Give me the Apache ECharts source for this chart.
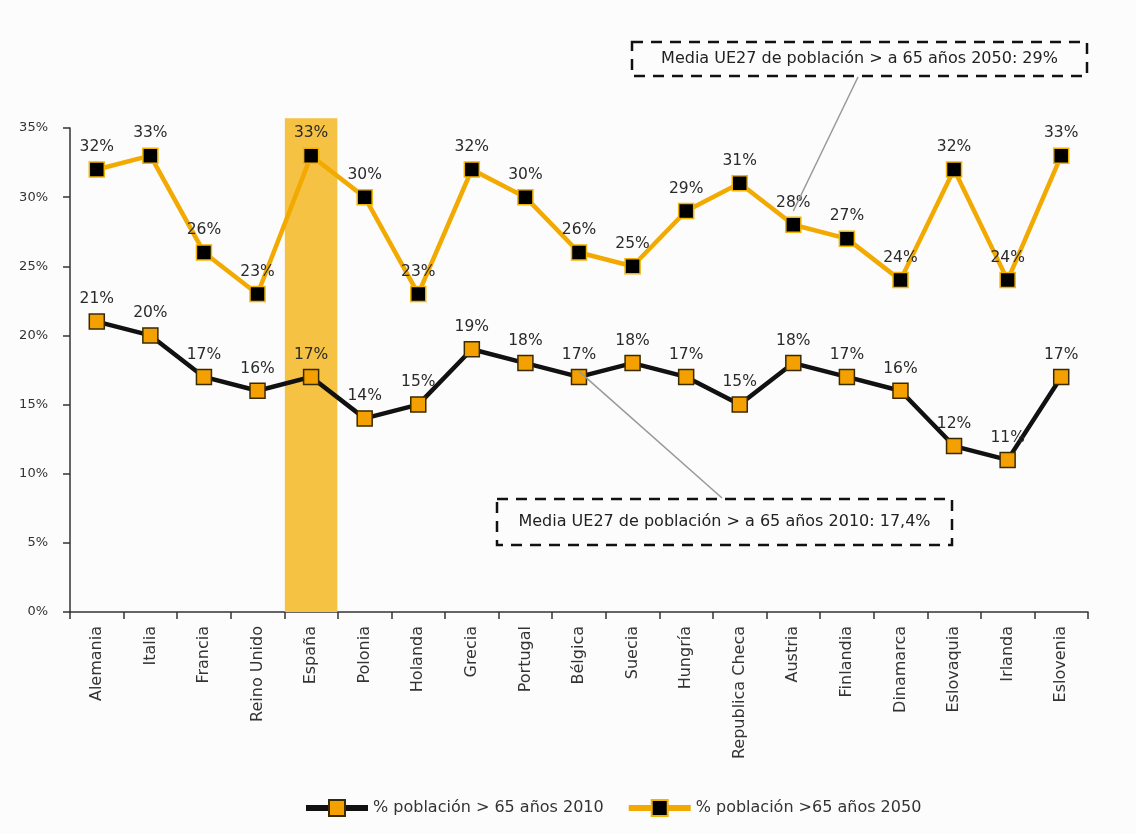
<!DOCTYPE html>
<html>
<head>
<meta charset="utf-8">
<script src="https://cdn.jsdelivr.net/npm/echarts@6/dist/echarts.min.js"></script>
<style>
  html, body { margin: 0; padding: 0; background: #fcfcfc; }
  #chart { width: 1136px; height: 834px; }
</style>
</head>
<body>
<div id="chart"></div>
<script>
// Countries along the x axis
const countries = ['Alemania', 'Italia', 'Francia', 'Reino Unido', 'España', 'Polonia', 'Holanda',
  'Grecia', 'Portugal', 'Bélgica', 'Suecia', 'Hungría', 'Republica Checa', 'Austria',
  'Finlandia', 'Dinamarca', 'Eslovaquia', 'Irlanda', 'Eslovenia'];

// Share of population over 65 (%)
const pop2010 = [21, 20, 17, 16, 17, 14, 15, 19, 18, 17, 18, 17, 15, 18, 17, 16, 12, 11, 17];
const pop2050 = [32, 33, 26, 23, 33, 30, 23, 32, 30, 26, 25, 29, 31, 28, 27, 24, 32, 24, 33];

// Highlight column behind España
const highlight = [null, null, null, null, 35.7, null, null, null, null, null, null, null, null, null, null, null, null, null, null];

// EU27 averages
const avg2010 = 17.4;
const avg2050 = 29;
const name2010 = '% población > 65 años 2010';
const name2050 = '% población >65 años 2050';
const note2010 = 'Media UE27 de población > a 65 años 2010: 17,4%';
const note2050 = 'Media UE27 de población > a 65 años 2050: 29%';

const FONT = 'DejaVu Sans';
const chart = echarts.init(document.getElementById('chart'));

const labelStyle = {
  show: true, position: 'top', distance: 6, formatter: '{c}%',
  fontFamily: FONT, fontSize: 15.5, color: '#2a2a2a'
};

chart.setOption({
  backgroundColor: '#fcfcfc',
  animation: false,
  textStyle: { fontFamily: FONT },
  grid: { left: 70, right: 48, top: 128, bottom: 222 },
  legend: {
    data: [name2010, name2050],
    bottom: 12,
    left: 298,
    itemWidth: 62,
    itemHeight: 20,
    itemGap: 22,
    lineStyle: { width: 6 },
    textStyle: { fontFamily: FONT, fontSize: 16, color: '#333' }
  },
  xAxis: {
    type: 'category',
    data: countries,
    boundaryGap: true,
    axisLine: { lineStyle: { color: '#333', width: 1.5 } },
    axisTick: { show: true, interval: 0, length: 7, lineStyle: { color: '#333', width: 1.5 } },
    axisLabel: { interval: 0, rotate: 90, fontFamily: FONT, fontSize: 16, color: '#333', margin: 14 }
  },
  yAxis: {
    type: 'value',
    min: 0, max: 35, interval: 5,
    splitLine: { show: false },
    axisLine: { show: true, lineStyle: { color: '#333', width: 1.5 } },
    axisTick: { show: true, length: 7, lineStyle: { color: '#333', width: 1.5 } },
    axisLabel: { formatter: '{value}%', fontFamily: FONT, fontSize: 13, color: '#333', margin: 22 }
  },
  series: [
    {
      name: 'highlight',
      type: 'bar',
      data: highlight,
      barWidth: '98%',
      clip: false,
      silent: true,
      z: 1,
      itemStyle: { color: '#f5c244' }
    },
    {
      name: name2010,
      type: 'line',
      data: pop2010,
      symbol: 'rect',
      symbolSize: 15,
      z: 3,
      lineStyle: { color: '#111', width: 4.5 },
      itemStyle: { color: '#f4a000', borderColor: '#3a2a00', borderWidth: 1.5 },
      label: labelStyle
    },
    {
      name: name2050,
      type: 'line',
      data: pop2050,
      symbol: 'rect',
      symbolSize: 15,
      z: 3,
      lineStyle: { color: '#f2a900', width: 4.5 },
      itemStyle: { color: '#000', borderColor: '#f2b400', borderWidth: 1.5 },
      label: labelStyle
    }
  ]
});

// Dashed note boxes with leader lines to the EU27 averages
function noteBox(x, y, w, h, text) {
  return [
    {
      type: 'rect', shape: { x: x, y: y, width: w, height: h }, z: 10,
      style: { fill: '#fcfcfc', stroke: '#111', lineWidth: 2.5, lineDash: [11, 8] }
    },
    {
      type: 'text', x: x + w / 2, y: y + h / 2, z: 11,
      style: { text: text, fill: '#222', font: '16px "DejaVu Sans"', align: 'center', verticalAlign: 'middle' }
    }
  ];
}

const p2050 = chart.convertToPixel({ seriesIndex: 2 }, [12.5, avg2050]);
const p2010 = chart.convertToPixel({ seriesIndex: 1 }, [9.4, avg2010]);

chart.setOption({
  graphic: [
    { type: 'line', z: 9, shape: { x1: 858, y1: 77, x2: p2050[0], y2: p2050[1] }, style: { stroke: '#999', lineWidth: 1.5 } },
    { type: 'line', z: 9, shape: { x1: 722, y1: 498, x2: p2010[0], y2: p2010[1] }, style: { stroke: '#999', lineWidth: 1.5 } },
    ...noteBox(632, 42, 455, 34, note2050),
    ...noteBox(497, 499, 455, 46, note2010)
  ]
});
</script>
</body>
</html>
